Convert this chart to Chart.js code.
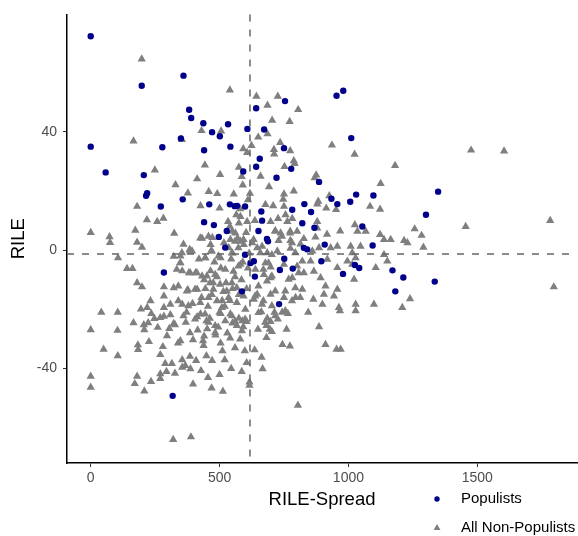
<!DOCTYPE html>
<html>
<head>
<meta charset="utf-8">
<script src="https://cdn.jsdelivr.net/npm/chart.js@4.4.1/dist/chart.umd.min.js"></script>
<style>
  html, body { margin: 0; padding: 0; background: #fff; }
  #wrap { width: 578px; height: 536px; position: relative; }
</style>
</head>
<body>
<div id="wrap"><canvas id="rileChart"></canvas></div>
<script>
// values: [RILE-Spread, RILE]
const populists = [
  [0,72.3],[198,55.6],[360,59],[382,47.5],[390,44.7],[437,42.9],[471,39.9],[501,38.5],[533,42.6],
  [350,37.8],[0,35],[278,34.8],[440,33.8],[542,35],[980,53.9],[954,52.2],[754,50.4],[642,48],
  [608,41],[673,40.8],[1011,37.9],[750,34.5],[656,30.9],[1348,19.8],[1301,12],[1335,-10.6],
  [318,-49.2],[58,26.3],[206,25.4],[219,19.3],[215,18.4],[272,14.8],[357,17.2],[460,15.5],
  [540,15.5],[559,14.9],[440,9.5],[478,8.5],[528,6.5],[497,4.5],[522,0.9],[284,-7.5],
  [592,26.6],[642,28.2],[778,27.5],[721,24.5],[886,23.1],[934,17.4],[957,15.6],[1007,16.4],
  [1030,18.8],[1097,18.5],[829,15.6],[855,12.9],[782,13.7],[662,13.1],[599,14.8],[568,15],
  [665,10],[821,9.1],[868,7.6],[1054,8],[651,6.5],[684,3.8],[688,3],[908,1.9],[1094,1.6],
  [827,0.8],[840,0.3],[599,-1.5],[620,-4.3],[633,-3.7],[751,-2.9],[895,-3.7],[734,-6.7],
  [784,-6.2],[1025,-5],[1042,-6],[979,-8],[1171,-6.8],[1213,-9.2],[1182,-13.9],[637,-8.9],
  [587,-13.9],[731,-18.2]
];

const nonPopulists = [
  // upper area
  [198,64.6],[540,54.1],[166,36.9],[354,37.4],[430,40.4],[506,40.3],
  [643,52],[726,52],[686,49],[805,47.5],[704,43.9],[772,43.5],[650,38.2],[686,39.3],[624,35.4],
  [592,34.3],[607,33],[711,34],[712,32.5],[735,36.4],[774,33.6],[936,35.5],[1024,32.4],[788,30.2],
  [1476,33.8],[1604,33.5],
  // right side
  [1257,7.2],[1284,5],[1291,1],[1455,8],[1783,10],[1797,-12.4],[1239,-16.4],[1229,2.5],
  // lower left
  [41,-21],[105,-21],[0,-26.9],[104,-27.1],[50,-33.5],[105,-35.7],[0,-42.6],[0,-46.3],
  [183,-32],[184,-33.6],[226,-30.9],[166,-24.5],[208,-26.9],[223,-24.5],[280,-32.6],[270,-35.3],
  [180,-42.6],[171,-45.1],[208,-47.6],[234,-44.4],[270,-41.8],[270,-43.4],[294,-41],[327,-41.6],
  [397,-45.2],[469,-46.6],[513,-47.7],[320,-64],[389,-63.1],[289,-38.3],[315,-38.3],[355,-37],
  [385,-35.9],[409,-37.3],[449,-35.7],[471,-37.3],[428,-40.7],[387,-40.1],[367,-39],[355,-39.6],
  [348,-30.6],[339,-31.4],[397,-30.3],[436,-30.6],[438,-32.2],[484,-28.7],[504,-31.4],[511,-34],
  [541,-29.7],[327,-25.2],[296,-28.9],[305,-26.5],[322,-24.8],[385,-27.9],[369,-24.4],[413,-22.5],
  [449,-23.9],[504,-21.4],[542,-21.6],[550,-24.6],[452,-26.6],[206,-25.2],[260,-26.1],[247,-23.1],
  [284,-22.3],[309,-21.8],[235,-21.4],[270,-22.8],[426,-21.6],
  // lower middle
  [662,-20.8],[713,-21],[743,-21],[765,-21.4],[844,-21],[1028,-20.5],[967,-20.5],[575,-23],
  [588,-23.9],[605,-24.1],[592,-25.9],[685,-23],[698,-24.1],[726,-23.3],[682,-25.5],[695,-26.7],
  [703,-27.5],[649,-26.7],[760,-26.7],[682,-29.5],[886,-25.9],[744,-31.9],[773,-32.4],[911,-31.9],
  [954,-33.5],[970,-33.5],[636,-33.7],[663,-36.2],[667,-40.1],[616,-44.6],[616,-45.7],[804,-52.4],
  // left middle
  [249,27.1],[443,28.8],[502,25.6],[329,22.1],[413,24.1],[377,19.3],[458,19.8],[491,19.1],
  [180,14.8],[426,15],[500,14.2],[218,10.3],[258,9.7],[282,10.8],[173,6.7],[0,6],[73,4.5],
  [75,2.6],[180,2.7],[199,1],[324,5.7],[432,4],[472,4.3],[533,9.7],[540,8.1],[549,6.4],
  [542,3.6],[517,2.5],[536,0.8],[465,1.9],[467,-0.3],[360,2],[384,0.2],[393,-0.3],[322,-2.1],
  [348,-2],[106,-2.6],[141,-6.2],[162,-6.2],[445,-2.6],[504,-2.6],[348,-4.3],[355,-7],
  [381,-7.6],[407,-7.6],[432,-8.7],[180,-11],[199,-12.4],[284,-12.4],[322,-12.7],[377,-13.4],
  [413,-13.2],[232,-17.1],[284,-15.5],[309,-18.3],[355,-18.3],[195,-19.9],[219,-19.4],[284,-19.4],
  // centre right
  [752,28.3],[791,29.3],[1181,28.6],[586,24.9],[659,25],[692,21.4],[618,19.2],[875,25.4],
  [869,24.5],[1125,22.5],[750,19],[788,20],[747,17.2],[926,18.4],[952,13.7],[883,16.5],
  [1084,14.8],[1123,13.8],[678,15.4],[708,15],[750,14.8],[756,12],[727,10.7],[782,10.7],
  [698,9.7],[763,9.7],[879,15.6],[914,14.2],[581,11.4],[607,9.7],[637,10],[575,9.2],
  [879,9.7],[879,7.5],[917,5.4],[968,6.5],[1025,8.6],[1035,6.4],[1067,6.4],[1123,5.3],
  [1138,3.6],[1164,3.6],[1216,3.3],[716,6.6],[737,5.8],[774,5.8],[801,6.4],[729,3.3],
  [775,3.3],[814,2.1],[827,3.9],[872,4.4],[581,3],[594,1.9],[627,2.5],[646,0.8],[665,1.3],
  [685,-0.9],[724,-0.3],[775,0.6],[860,-0.3],[886,0.8],[931,0.8],[957,1.3],[1009,1.3],
  [1047,1.3],[1015,-0.9],[1028,-2.6],[1138,-1.5],[678,-4.3],[698,-5.7],[750,-4.8],[801,-5.4],
  [821,-3.7],[853,-3.7],[918,-3.1],[957,-5.9],[996,-3.7],[1015,-4.8],[1106,-5.9],[1151,-3.7],
  [581,-4.8],[639,-6.5],[672,-8.2],[698,-9.3],[782,-9.3],[827,-7.6],[866,-7.1],[892,-9.3],
  [911,-12.1],[957,-13.2],[1022,-9.8],[821,-13.2],[698,-14.9],[750,-16],[795,-16],[864,-16.6],
  [905,-14.9],[944,-15.5],[646,-14.9],[665,-18.3],[633,-16.6],[1099,-18.3],[1209,-19.4],
  [1028,-18.3],[963,-19.4],[899,-18.3],
  // dense cluster
  [425,4.1],[457,4.7],[561,5.8],[593,3.6],[632,3.6],[716,6.4],[742,4.7],[774,6.4],[781,2.5],
  [354,-0.9],[386,-0.3],[444,-2.6],[470,-0.3],[496,-2],[548,-0.9],[573,0.8],[658,-0.9],
  [703,-1.5],[794,-0.9],[690,-4.3],[347,-4.3],[334,-6.5],[386,-7.6],[412,-7.6],[451,-8.7],
  [483,-8.2],[522,-6.5],[554,-7.1],[573,-5.4],[670,-6.5],[703,-8.7],[768,-9.8],[807,-7.6],
  [340,-12.1],[373,-13.8],[405,-13.2],[463,-11],[476,-13.2],[502,-11.5],[528,-13.8],[548,-11],
  [567,-12.7],[651,-12.1],[684,-10.4],[716,-13.8],[755,-13.8],[794,-12.7],[340,-17.1],
  [379,-18.8],[425,-17.7],[457,-16],[490,-17.1],[509,-19.4],[535,-16],[567,-17.7],[593,-15.5],
  [638,-15.5],[670,-17.1],[703,-18.8],[781,-17.1],[813,-16],[360,-22.2],[405,-23.3],[444,-21.6],
  [457,-24.4],[483,-25.5],[522,-23.9],[548,-22.2],[567,-25.5],[599,-23.3],[651,-21.1],
  [677,-24.4],[716,-22.2],[755,-20.5],[483,-27.8],[587,-27.2],
  [440,-10],[470,-15],[490,-9],[515,-14],[540,-17],[455,-19],[500,-21],[525,-11],[560,-9],
  [480,-4],[505,-6],[545,-3],[445,-13],[465,-7],[520,-19],[585,-10],[600,-20],[610,-6],
  [430,-16],[462,-23],[495,-26],[530,-28],[560,-24],[575,-15],[590,-4],[605,-13],[475,-11],
  [510,-17],[550,-13],[420,-3],[395,-18],[372,-21],[415,-27],[440,-29],[580,-30],[598,-34],
  [560,-33],[520,-37],[605,-38],[586,-41],[545,-40],[500,-42],[455,-43],[560,3],[555,19],
  [565,12],[550,-1],[575,28],[590,22],[610,17],[580,14],[603,6],[570,4],[615,-1]
];

const xTicks = [0, 500, 1000, 1500];
const yTicks = [-40, 0, 40];
const meanSpread = 618;   // vertical dashed line
const meanRile = -1.3;    // horizontal dashed line

const navy = "#00008B";
const grey = "#7F7F7F";
const fontFam = '"Liberation Sans", Arial, Helvetica, sans-serif';

// dashed reference lines through the scales
const refLines = {
  id: "refLines",
  afterDatasetsDraw(chart) {
    const { ctx, chartArea, scales } = chart;
    const x = scales.x.getPixelForValue(meanSpread);
    const y = scales.y.getPixelForValue(meanRile);
    ctx.save();
    ctx.strokeStyle = "#666666";
    ctx.lineWidth = 1.5;
    ctx.setLineDash([7, 8]);
    ctx.beginPath();
    ctx.moveTo(x, chartArea.top);
    ctx.lineTo(x, chartArea.bottom);
    ctx.moveTo(chartArea.left, y);
    ctx.lineTo(chartArea.right, y);
    ctx.stroke();
    ctx.restore();
  }
};

// legend stacked under the plot at the right
const stackedLegend = {
  id: "stackedLegend",
  afterDraw(chart) {
    const ctx = chart.ctx;
    ctx.save();
    ctx.fillStyle = navy;
    ctx.beginPath();
    ctx.arc(437, 499, 2.7, 0, Math.PI * 2);
    ctx.fill();
    ctx.fillStyle = grey;
    const r = 4, tx = 437, ty = 528;
    ctx.beginPath();
    ctx.moveTo(tx, ty - r);
    ctx.lineTo(tx + r * 0.866, ty + r * 0.5);
    ctx.lineTo(tx - r * 0.866, ty + r * 0.5);
    ctx.closePath();
    ctx.fill();
    ctx.fillStyle = "#000";
    ctx.font = "15px " + fontFam;
    ctx.textBaseline = "middle";
    ctx.fillText("Populists", 461, 499);
    ctx.fillText("All Non-Populists", 461, 528);
    ctx.restore();
  }
};

const ctx = document.getElementById("rileChart").getContext("2d");
const rileChart = new Chart(ctx, {
  type: "scatter",
  data: {
    datasets: [
      {
        label: "Populists",
        data: populists.map(p => ({ x: p[0], y: p[1] })),
        pointStyle: "circle",
        pointRadius: 3.2,
        pointBorderWidth: 0,
        backgroundColor: navy,
        borderColor: navy
      },
      {
        label: "All Non-Populists",
        data: nonPopulists.map(p => ({ x: p[0], y: p[1] })),
        pointStyle: "triangle",
        pointRadius: 4.8,
        pointBorderWidth: 0,
        backgroundColor: grey,
        borderColor: grey
      }
    ]
  },
  options: {
    responsive: true,
    maintainAspectRatio: false,
    animation: false,
    events: [],
    layout: { autoPadding: false, padding: { top: 12, right: 1, left: 0, bottom: 0 } },
    plugins: {
      legend: { display: false },
      tooltip: { enabled: false }
    },
    scales: {
      x: {
        type: "linear",
        min: -92,
        max: 1887,
        afterBuildTicks: s => { s.ticks = xTicks.map(v => ({ value: v })); },
        afterFit: s => { s.height = 73; },
        border: { display: true, color: "#000", width: 1.5 },
        grid: { display: true, drawOnChartArea: false, drawTicks: true, tickLength: 4, color: "#333" },
        ticks: {
          color: "#4D4D4D",
          padding: 3,
          font: { family: fontFam, size: 14 },
          callback: v => String(v)
        },
        title: {
          display: true,
          text: "RILE-Spread",
          color: "#000",
          font: { family: fontFam, size: 18.5 },
          padding: { top: 0, bottom: 25 }
        }
      },
      y: {
        type: "linear",
        min: -71.9,
        max: 79.7,
        afterBuildTicks: s => { s.ticks = yTicks.map(v => ({ value: v })); },
        afterFit: s => { s.width = 67; },
        border: { display: true, color: "#000", width: 1.5 },
        grid: { display: true, drawOnChartArea: false, drawTicks: true, tickLength: 4, color: "#333" },
        ticks: {
          color: "#4D4D4D",
          padding: 6,
          font: { family: fontFam, size: 14 },
          callback: v => String(v)
        },
        title: {
          display: true,
          text: "RILE",
          color: "#000",
          font: { family: fontFam, size: 18.5 },
          padding: { top: 8, bottom: 0 }
        }
      }
    }
  },
  plugins: [refLines, stackedLegend]
});
</script>
</body>
</html>
